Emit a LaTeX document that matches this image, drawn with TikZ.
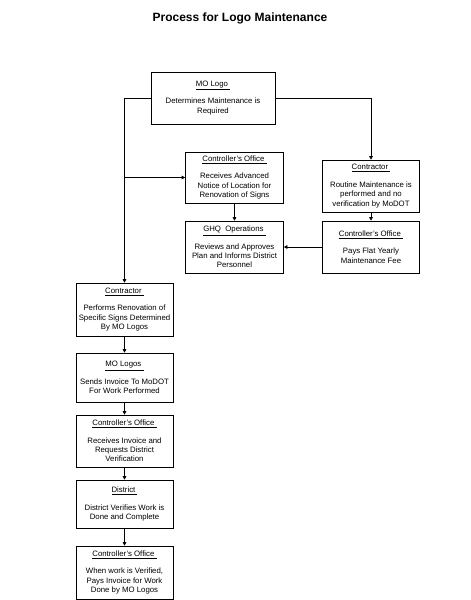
\documentclass[tikz,border=0pt]{standalone}
\usepackage{fontspec}
\setmainfont{Liberation Sans}
\usetikzlibrary{arrows.meta}

\begin{document}
\begin{tikzpicture}[x=1pt, y=-1pt,
    stepbox/.style={draw, line width=0.6pt, inner sep=0pt, align=center,
        font=\fontsize{7.8}{9.4}\selectfont},
    flow/.style={line width=0.6pt, -{Triangle[length=3.5pt,width=3.5pt]}}]

    \useasboundingbox (0,0) rectangle (471,600);

    % title
    \node[font=\fontsize{12}{14}\selectfont\bfseries] (title) at (240,18) {Process for Logo Maintenance};

    % draw boxes
    \node[stepbox, minimum width=124pt, minimum height=52pt] (molog) at (213,98)
        {\underline{MO Logo~}\\[8pt]Determines Maintenance is\\Required};
    \node[stepbox, minimum width=98pt, minimum height=51pt] (ctrlA) at (234.5,177.5)
        {\underline{Controller's Office~}\\[8pt]Receives Advanced\\Notice of Location for\\Renovation of Signs};
    \node[stepbox, minimum width=98pt, minimum height=52pt] (ghq) at (234.5,247)
        {\underline{GHQ~~Operations~}\\[8pt]Reviews and Approves\\Plan and Informs District\\Personnel};
    \node[stepbox, minimum width=97pt, minimum height=52pt] (contrR) at (371,186)
        {\underline{Contractor~}\\[8pt]Routine Maintenance is\\performed and no\\verification by MoDOT};
    \node[stepbox, minimum width=97pt, minimum height=52pt] (ctrlR) at (371,247)
        {\underline{Controller's Office~}\\[8pt]Pays Flat Yearly\\Maintenance Fee};
    \node[stepbox, minimum width=97pt, minimum height=53pt] (contrL) at (124.5,309.5)
        {\underline{Contractor~}\\[8pt]Performs Renovation of\\Specific Signs Determined\\By MO Logos};
    \node[stepbox, minimum width=97pt, minimum height=49pt] (mologos) at (124.5,377.5)
        {\underline{MO Logos~}\\[8pt]Sends Invoice To MoDOT\\For Work Performed};
    \node[stepbox, minimum width=97pt, minimum height=52pt] (ctrlB) at (124.5,441)
        {\underline{Controller's Office~}\\[8pt]Receives Invoice and\\Requests District\\Verification};
    \node[stepbox, minimum width=97pt, minimum height=48pt] (district) at (124.5,504)
        {\underline{District~}\\[8pt]District Verifies Work is\\Done and Complete};
    \node[stepbox, minimum width=97pt, minimum height=53pt] (ctrlC) at (124.5,572.5)
        {\underline{Controller's Office~}\\[8pt]When work is Verified,\\Pays Invoice for Work\\Done by MO Logos};

    % draw arrows
    \draw[flow] (molog.west) -| (contrL.north);
    \draw[flow] (ctrlA.west -| contrL.north) -- (ctrlA.west);
    \draw[flow] (molog.east) -| (contrR.north);
    \draw[flow] (ctrlA.south) -- (ghq.north);
    \draw[flow] (contrR.south) -- (ctrlR.north);
    \draw[flow] (ctrlR.west) -- (ghq.east);
    \draw[flow] (contrL.south) -- (mologos.north);
    \draw[flow] (mologos.south) -- (ctrlB.north);
    \draw[flow] (ctrlB.south) -- (district.north);
    \draw[flow] (district.south) -- (ctrlC.north);

\end{tikzpicture}
\end{document}
